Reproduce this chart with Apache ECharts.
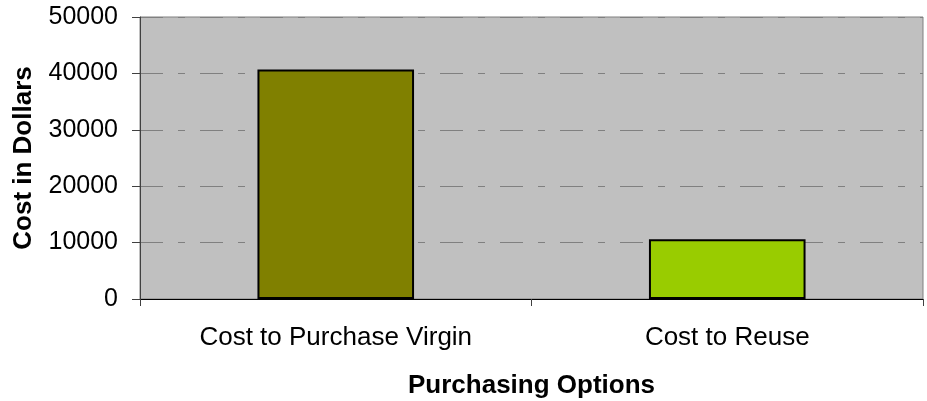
<!DOCTYPE html>
<html>
<head>
<meta charset="utf-8">
<script src="https://cdn.jsdelivr.net/npm/echarts@6/dist/echarts.min.js"></script>
<style>
  html, body { margin: 0; padding: 0; background: #fff; }
  #chart { width: 927px; height: 401px; }
</style>
</head>
<body>
<div id="chart"></div>
<script>
// data
var categories = ['Cost to Purchase Virgin', 'Cost to Reuse'];
var costs = [40700, 10600];
var barColors = ['#808000', '#99CC00'];

var myChart = echarts.init(document.getElementById('chart'));
var option = {
    animation: false,
    grid: {
        left: 140,
        right: 4,
        top: 17,
        bottom: 102,
        outerBoundsMode: 'none',
        show: true,
        backgroundColor: '#C0C0C0',
        borderColor: '#808080',
        borderWidth: 1
    },
    xAxis: {
        type: 'category',
        data: categories,
        name: 'Purchasing Options',
        nameLocation: 'middle',
        nameGap: 74,
        nameTextStyle: { fontFamily: 'Liberation Sans', fontSize: 26, fontWeight: 'bold', color: '#000' },
        axisLine: { lineStyle: { color: '#000', width: 1 } },
        axisTick: { show: true, length: 7, lineStyle: { color: '#404040' } },
        axisLabel: { margin: 26, fontFamily: 'Liberation Sans', fontSize: 26, color: '#000' }
    },
    yAxis: {
        type: 'value',
        min: 0,
        max: 50000,
        interval: 10000,
        name: 'Cost in Dollars',
        nameLocation: 'middle',
        nameGap: 103,
        nameRotate: 90,
        nameTextStyle: { fontFamily: 'Liberation Sans', fontSize: 26, fontWeight: 'bold', color: '#000' },
        axisLine: { show: true, lineStyle: { color: '#404040', width: 1 } },
        axisTick: { show: true, length: 8, lineStyle: { color: '#404040' } },
        axisLabel: {
            margin: 22,
            fontFamily: 'Liberation Sans',
            fontSize: 25,
            color: '#000',
            formatter: function (v) { return String(v); }
        },
        splitLine: {
            show: true,
            lineStyle: { color: '#808080', width: 1, type: [23, 15, 7, 15] }
        }
    },
    series: [{
        type: 'bar',
        data: costs.map(function (v, i) {
            return { value: v, itemStyle: { color: barColors[i] } };
        }),
        barWidth: '40%',
        itemStyle: { borderColor: '#000', borderWidth: 2 }
    }]
};
myChart.setOption(option);
</script>
</body>
</html>
